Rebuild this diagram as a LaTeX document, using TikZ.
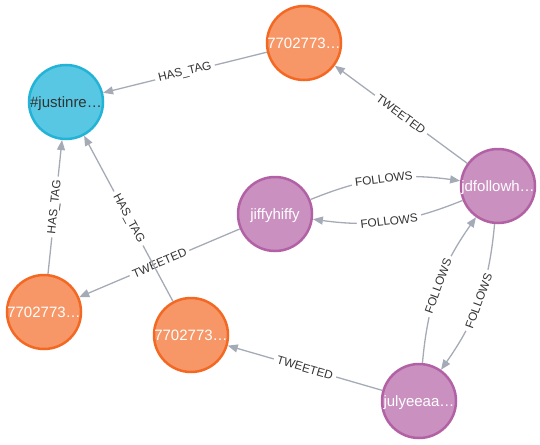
\documentclass[tikz,border=0pt]{standalone}
\usepackage{fontspec}
\setmainfont{Liberation Sans}
\usetikzlibrary{arrows.meta}
\definecolor{orfill}{HTML}{F79767}
\definecolor{orline}{HTML}{F36924}
\definecolor{blfill}{HTML}{57C7E3}
\definecolor{blline}{HTML}{23B3D7}
\definecolor{pufill}{HTML}{C990C0}
\definecolor{puline}{HTML}{B261A5}
\definecolor{edgec}{HTML}{A5ABB6}
\definecolor{labc}{HTML}{333333}
\begin{document}
\begin{tikzpicture}[x=1pt,y=1pt,
 gnode/.style={circle, minimum size=74pt, inner sep=0pt, line width=2.5pt,
   font=\fontsize{15}{15}\selectfont, text=white, text height=10.7pt, text depth=0pt},
 tweetnode/.style={gnode, fill=orfill, draw=orline},
 tagnode/.style={gnode, fill=blfill, draw=blline, text=labc},
 usernode/.style={gnode, fill=pufill, draw=puline},
 rel/.style={draw=edgec, line width=1.3pt, -{Triangle[length=10pt,width=8pt]}},
 rlab/.style={sloped, fill=white, inner xsep=3.5pt, inner ysep=1.5pt, font=\fontsize{11.8}{11.8}\selectfont, text=labc}]
\useasboundingbox (0,0) rectangle (540,-444);
\node[tagnode] (tag) at (66,-102) {\makebox[0pt]{\#justinre…}};
\node[tweetnode] (t1) at (304,-43) {\makebox[0pt]{7702773…}};
\node[usernode] (jiffy) at (275,-214) {\makebox[0pt]{jiffyhiffy}};
\node[usernode] (jd) at (498,-186) {\makebox[0pt]{jdfollowh…}};
\node[tweetnode] (t2) at (44,-312) {\makebox[0pt]{7702773…}};
\node[tweetnode] (t3) at (191,-335) {\makebox[0pt]{7702773…}};
\node[usernode] (july) at (419,-401) {\makebox[0pt]{julyeeaa…}};
\draw[rel] (t1) -- node[rlab]{HAS\_TAG} (tag);
\draw[rel] (jd) -- node[rlab]{TWEETED} (t1);
\draw[rel] (jiffy) to[bend left=15] node[rlab]{FOLLOWS} (jd);
\draw[rel] (jd) to[bend left=15] node[rlab]{FOLLOWS} (jiffy);
\draw[rel] (jiffy) -- node[rlab]{TWEETED} (t2);
\draw[rel] (t2) -- node[rlab]{HAS\_TAG} (tag);
\draw[rel] (t3) -- node[rlab]{HAS\_TAG} (tag);
\draw[rel] (july) -- node[rlab]{TWEETED} (t3);
\draw[rel] (july) to[bend left=15] node[rlab]{FOLLOWS} (jd);
\draw[rel] (jd) to[bend left=15] node[rlab]{FOLLOWS} (july);
\end{tikzpicture}
\end{document}
